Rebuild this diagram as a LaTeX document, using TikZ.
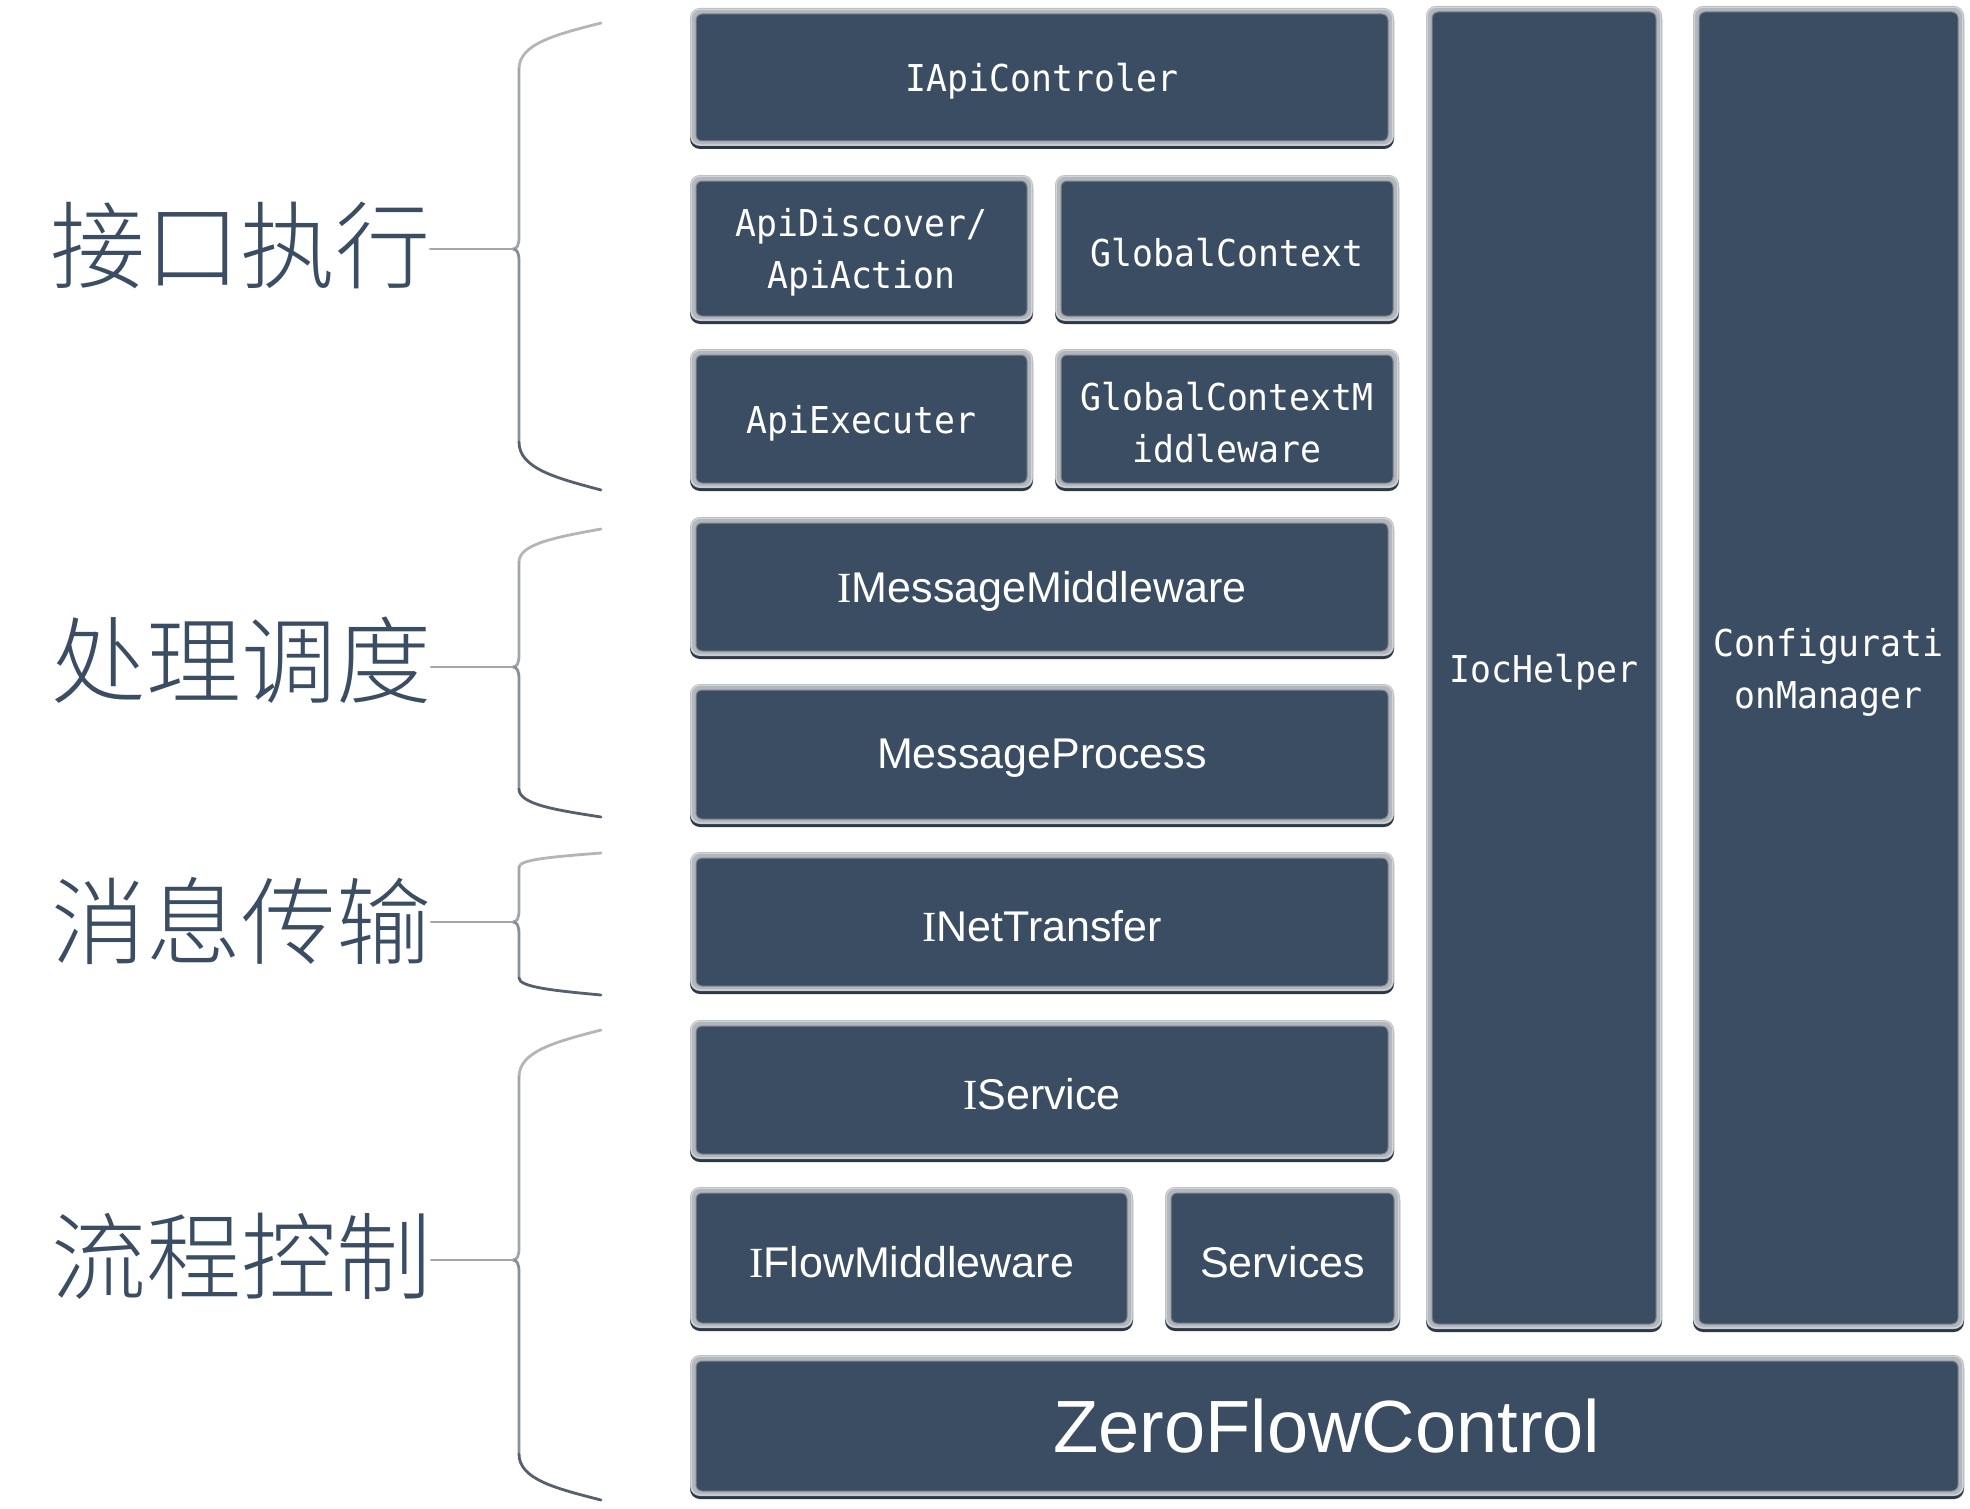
\documentclass[tikz,border=0pt]{standalone}
\usepackage{fontspec}
\setmainfont{Liberation Sans}
\newfontfamily\monof[FakeStretch=0.94]{DejaVu Sans Mono}
\newfontfamily\serf{Liberation Serif}
\newfontfamily\cjkf{Noto Sans CJK SC Light}
\definecolor{boxfill}{HTML}{3B4D62}
\definecolor{bshadowc}{HTML}{2C3846}
\definecolor{bbevelc}{HTML}{B3B7BC}
\definecolor{bhic}{HTML}{D2D5D8}
\definecolor{binc}{HTML}{7E8792}
\definecolor{labc}{HTML}{3B4D63}
\definecolor{brA}{HTML}{B3B5B8}
\definecolor{brB}{HTML}{A2A6AB}
\definecolor{brC}{HTML}{878F98}
\definecolor{brD}{HTML}{55606D}
\newcommand\Iser{{\serf I}}
\tikzset{
  boxnode/.style={fill=boxfill, draw=binc, line width=1pt, rounded corners=6pt,
    inner sep=0pt},
  boxtext/.style={inner sep=0pt, text=white, align=center},
  monot/.style={font=\monof\fontsize{37}{52}\selectfont, yshift=-4pt},
  sanst/.style={font=\fontsize{43}{50}\selectfont, yshift=-4pt},
  bigt/.style={font=\fontsize{74}{80}\selectfont},
  cjklab/.style={font=\cjkf\fontsize{95}{110}\selectfont, text=labc, inner sep=0pt, anchor=base},
  brbase/.style={line width=2.8pt, line cap=round},
  brlight/.style={brbase, draw=brA},
  brmid/.style={brbase, draw=brB},
  brmidb/.style={brbase, draw=brC},
  brdark/.style={brbase, draw=brD},
  brline/.style={brbase, draw=brB},
}
\newcommand\bevbox[7]{%
  \fill[bshadowc, rounded corners=10pt] (#2,#3+3) rectangle (#4,#5);
  \fill[bbevelc, rounded corners=10pt] (#2,#3) rectangle (#4,#5-3);
  \draw[bhic, line width=1.2pt, rounded corners=9pt] (#2+1.2,#3+1.2) rectangle (#4-1.2,#5-4);
  \node[boxnode, minimum width={#4pt-#2pt-12pt}, minimum height={#5pt-#3pt-14pt}]
    (#1) at ({(#2+#4)/2},{(#3+#5)/2-1}) {};
  \node[boxtext, #6] (#1txt) at (#1.center) {#7};
}
\newcommand\mybrace[7]{%
  \coordinate (#1t) at (601,#2);
  \coordinate (#1tip) at (513,#4);
  \coordinate (#1b) at (601,#6);
  \draw[brlight] (#1t) .. controls (556,{#2+0.25*(#3-#2)}) and (519,{#3-0.55*(#3-#2)}) .. (519,#3);
  \draw[brmid] (519,#3) -- (519,#4-12) .. controls (519,#4-4) and (517,#4) .. (#1tip);
  \draw[brmidb] (#1tip) .. controls (517,#4) and (519,#4+4) .. (519,#4+12) -- (519,#5);
  \draw[brdark] (519,#5) .. controls (519,{#5+0.55*(#6-#5)}) and (556,{#6-0.25*(#6-#5)}) .. (#1b);
  \draw[brline] (#7.east |- #1tip) -- (#1tip);
}
\begin{document}
\begin{tikzpicture}[x=1pt,y=-1pt]
\useasboundingbox[fill=white] (0,0) rectangle (1970,1509);

% boxes
\bevbox{api}{690}{8}{1394}{149}{monot}{IApiControler}
\bevbox{disc}{690}{175}{1033}{324}{monot}{ApiDiscover/\\ApiAction}
\bevbox{gctx}{1055}{175}{1399}{324}{monot}{GlobalContext}
\bevbox{exec}{690}{349}{1033}{491}{monot}{ApiExecuter}
\bevbox{gmid}{1055}{349}{1399}{491}{monot}{GlobalContextM\\iddleware}
\bevbox{mmid}{690}{517}{1394}{659}{sanst}{\Iser MessageMiddleware}
\bevbox{mproc}{690}{684}{1394}{827}{sanst}{MessageProcess}
\bevbox{inet}{690}{852}{1394}{994}{sanst}{\Iser NetTransfer}
\bevbox{isvc}{690}{1020}{1394}{1162}{sanst}{\Iser Service}
\bevbox{flow}{690}{1187}{1133}{1331}{sanst}{\Iser FlowMiddleware}
\bevbox{svcs}{1165}{1187}{1400}{1331}{sanst}{Services}
\bevbox{ioc}{1426}{6}{1662}{1332}{monot}{IocHelper}
\bevbox{cfg}{1693}{6}{1964}{1332}{monot}{Configurati\\onManager}
\bevbox{zero}{690}{1355}{1964}{1499}{bigt}{ZeroFlowControl}

% labels
\node[cjklab] (l1) at (240,281) {接口执行};
\node[cjklab] (l2) at (241,696) {处理调度};
\node[cjklab] (l3) at (241,957) {消息传输};
\node[cjklab] (l4) at (241,1292) {流程控制};

% braces
\mybrace{b1}{23}{69}{249}{442}{490}{l1}
\mybrace{b2}{529}{562}{667}{789}{817}{l2}
\mybrace{b3}{853}{867}{922}{978}{995}{l3}
\mybrace{b4}{1030}{1077}{1260}{1454}{1500}{l4}
\end{tikzpicture}
\end{document}
